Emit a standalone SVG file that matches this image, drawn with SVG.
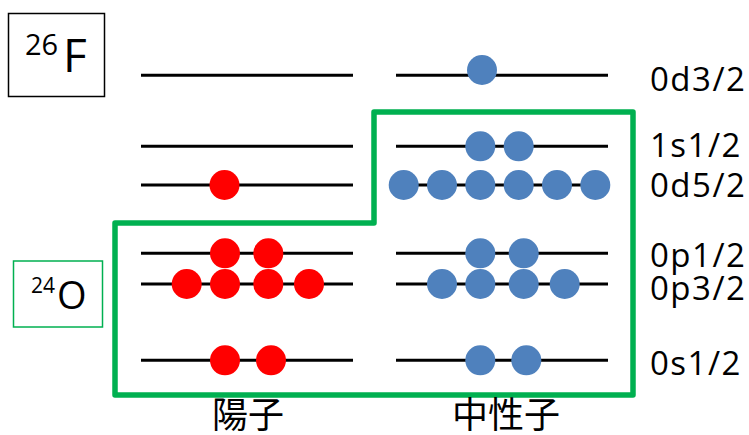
<svg xmlns="http://www.w3.org/2000/svg" width="749" height="435" viewBox="0 0 749 435">
  <style>
    .lvl { stroke: #000; stroke-width: 3; }
    .p { fill: #FF0000; }
    .n { fill: #4F81BD; }
    .lab { font-family: "Open Sans", "Liberation Sans", sans-serif; font-size: 33px; letter-spacing: 1.5px; fill: #000; }
    .cjk { font-family: "Noto Sans CJK JP", "Noto Sans CJK SC", sans-serif; font-size: 36px; fill: #000; text-anchor: middle; }
    .iso { font-family: "Open Sans", "Liberation Sans", sans-serif; fill: #000; }
  </style>
  <rect width="749" height="435" fill="#fff"/>

  <!-- nucleus labels -->
  <g id="f26">
    <rect x="8.5" y="13.5" width="96" height="83" fill="#fff" stroke="#000" stroke-width="1.5"/>
    <text class="iso" x="25" y="55" font-size="29">26</text>
    <text class="iso" x="63" y="72" font-size="46">F</text>
  </g>
  <g id="o24">
    <rect x="13.5" y="261" width="89" height="66" fill="#fff" stroke="#00B050" stroke-width="1.5"/>
    <text class="iso" x="31" y="293" font-size="21">24</text>
    <text class="iso" x="57" y="309" font-size="38">O</text>
  </g>

  <!-- closed-shell boundary of the 24O core -->
  <g id="core">
    <path d="M115,223 L374,223 L374,112 L633,112 L633,395 L115,395 Z" fill="none" stroke="#00B050" stroke-width="5.5" stroke-linejoin="round"/>
  </g>

  <!-- single-particle levels -->
  <g id="levels">
    <line class="lvl" x1="141" y1="75.3" x2="353" y2="75.3"/>
    <line class="lvl" x1="141" y1="146.3" x2="353" y2="146.3"/>
    <line class="lvl" x1="141" y1="185" x2="353" y2="185"/>
    <line class="lvl" x1="141" y1="253.3" x2="353" y2="253.3"/>
    <line class="lvl" x1="141" y1="284" x2="353" y2="284"/>
    <line class="lvl" x1="141" y1="360.3" x2="353" y2="360.3"/>
    <line class="lvl" x1="396" y1="75.3" x2="608" y2="75.3"/>
    <line class="lvl" x1="396" y1="146.3" x2="608" y2="146.3"/>
    <line class="lvl" x1="396" y1="185" x2="608" y2="185"/>
    <line class="lvl" x1="396" y1="253.3" x2="608" y2="253.3"/>
    <line class="lvl" x1="396" y1="284" x2="608" y2="284"/>
    <line class="lvl" x1="396" y1="360.3" x2="608" y2="360.3"/>
  </g>

  <!-- protons -->
  <g id="protons">
    <circle class="p" cx="224.5" cy="185" r="15"/>
    <circle class="p" cx="225" cy="253.3" r="15"/>
    <circle class="p" cx="268.3" cy="253.3" r="15"/>
    <circle class="p" cx="186.7" cy="284" r="15"/>
    <circle class="p" cx="225" cy="284" r="15"/>
    <circle class="p" cx="268.3" cy="284" r="15"/>
    <circle class="p" cx="309" cy="284" r="15"/>
    <circle class="p" cx="225" cy="360.3" r="15"/>
    <circle class="p" cx="271" cy="360.3" r="15"/>
  </g>

  <!-- neutrons -->
  <g id="neutrons">
    <circle class="n" cx="482" cy="70" r="15"/>
    <circle class="n" cx="480.3" cy="146.3" r="15"/>
    <circle class="n" cx="518.7" cy="146.3" r="15"/>
    <circle class="n" cx="403.7" cy="185" r="15"/>
    <circle class="n" cx="442" cy="185" r="15"/>
    <circle class="n" cx="480.3" cy="185" r="15"/>
    <circle class="n" cx="518.7" cy="185" r="15"/>
    <circle class="n" cx="557" cy="185" r="15"/>
    <circle class="n" cx="595.3" cy="185" r="15"/>
    <circle class="n" cx="480.3" cy="253.3" r="15"/>
    <circle class="n" cx="523.7" cy="253.3" r="15"/>
    <circle class="n" cx="442" cy="284" r="15"/>
    <circle class="n" cx="480.3" cy="284" r="15"/>
    <circle class="n" cx="523.7" cy="284" r="15"/>
    <circle class="n" cx="564.7" cy="284" r="15"/>
    <circle class="n" cx="480.3" cy="360.3" r="15"/>
    <circle class="n" cx="526.3" cy="360.3" r="15"/>
  </g>

  <!-- orbital labels -->
  <g id="orbital-labels">
    <text class="lab" x="650" y="90.7">0d3/2</text>
    <text class="lab" x="650" y="157.3">1s1/2</text>
    <text class="lab" x="650" y="196.7">0d5/2</text>
    <text class="lab" x="650" y="266.7">0p1/2</text>
    <text class="lab" x="650" y="300">0p3/2</text>
    <text class="lab" x="650" y="375">0s1/2</text>
  </g>

  <!-- column titles -->
  <g id="columns">
    <text class="cjk" x="248" y="428">陽子</text>
    <text class="cjk" x="506" y="428">中性子</text>
  </g>
</svg>
